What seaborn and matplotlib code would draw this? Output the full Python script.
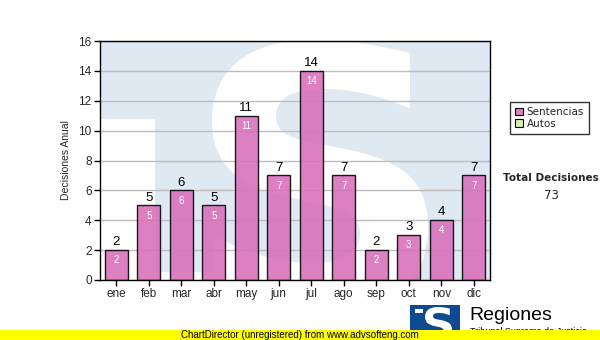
import matplotlib
matplotlib.use("Agg")
import matplotlib.pyplot as plt
import seaborn as sns
import pandas as pd
from matplotlib.patches import Rectangle, PathPatch, Patch
from matplotlib.textpath import TextPath
from matplotlib.font_manager import FontProperties
from matplotlib.transforms import Affine2D

# Monthly decisions
months = ["ene", "feb", "mar", "abr", "may", "jun", "jul", "ago", "sep", "oct", "nov", "dic"]
sentencias = [2, 5, 6, 5, 11, 7, 14, 7, 2, 3, 4, 7]
autos = [0, 0, 0, 0, 0, 0, 0, 0, 0, 0, 0, 0]
total = sum(sentencias) + sum(autos)

sns.set_theme(style="white")
plt.rcParams["font.family"] = ["Liberation Sans", "DejaVu Sans"]

W, H = 600, 340
fig = plt.figure(figsize=(6, 3.4), dpi=100)
fig.patch.set_facecolor("white")

def fx(px):
    return px / W

def fy(py):
    return 1 - py / H

# plot area in pixels: x 100..490, y 41..280
ax = fig.add_axes([fx(100), fy(280), (490 - 100) / W, (280 - 41) / H])
ax.set_facecolor("#dfe9f2")

# watermark logo behind the bars
ax.add_patch(Rectangle((0, 0), 55 / 390, 161 / 239, transform=ax.transAxes,
                       facecolor="white", edgecolor="none", zorder=0.1))
ax.add_patch(Rectangle((55 / 390, 0), 120 / 390, 8 / 239, transform=ax.transAxes,
                       facecolor="white", edgecolor="none", zorder=0.1))
sp = TextPath((0, 0), "S", prop=FontProperties(family="DejaVu Sans", weight="bold"))
ext = sp.get_extents()
x0, x1 = (212 - 100) / 390, (428 - 100) / 390
y0, y1 = (280 - 312) / 239, (280 - 40) / 239
tr = (Affine2D().translate(-ext.x0, -ext.y0)
      .scale((x1 - x0) / ext.width, (y1 - y0) / ext.height)
      .translate(x0, y0))
ax.add_patch(PathPatch(tr.transform_path(sp), transform=ax.transAxes,
                       facecolor="white", edgecolor="none", zorder=0.2))

df = pd.DataFrame({"mes": months, "Sentencias": sentencias})
sns.barplot(data=df, x="mes", y="Sentencias", color="#d86fb9", alpha=0.88,
            width=0.71, edgecolor="black", linewidth=1.0, saturation=1,
            ax=ax, zorder=2)

ax.set_ylim(0, 16)
ax.set_xlim(-0.5, len(months) - 0.5)
ax.set_yticks(range(0, 17, 2))
ax.yaxis.grid(True, color="#bdbdbd", linewidth=1.0)
ax.set_axisbelow(True)
for g in ax.get_ygridlines():
    g.set_zorder(0.5)
for s in ax.spines.values():
    s.set_visible(True)
    s.set_color("black")
    s.set_linewidth(1.0)
    s.set_zorder(3)
ax.tick_params(axis="both", direction="out", length=4, width=1, color="black",
               labelsize=8.5, pad=2, left=True, bottom=True)
ax.set_xlabel("")
ax.set_ylabel("Decisiones Anual", fontsize=7.5, labelpad=5)

for i, v in enumerate(sentencias):
    ax.text(i, v + 0.12, str(v), ha="center", va="bottom", fontsize=9.5,
            color="black", zorder=4)
    ax.text(i, v - 0.35, str(v), ha="center", va="top", fontsize=7,
            color="white", zorder=4)

# legend
handles = [Patch(facecolor="#de80c2", edgecolor="black", linewidth=0.8, label="Sentencias"),
           Patch(facecolor="#d8efa6", edgecolor="black", linewidth=0.8, label="Autos")]
leg = fig.legend(handles=handles, loc="upper left",
                 bbox_to_anchor=(fx(510), fy(102)),
                 prop={"family": "DejaVu Sans", "size": 7.5},
                 frameon=True, fancybox=False, edgecolor="black",
                 handlelength=0.7, handleheight=0.7, handletextpad=0.4,
                 labelspacing=0.15, borderpad=0.5, borderaxespad=0)
leg.get_frame().set_linewidth(1.0)

fig.text(fx(551), fy(178), "Total Decisiones", ha="center", va="center",
         fontsize=7.5, fontweight="bold", family="DejaVu Sans")
fig.text(fx(551), fy(196), str(total), ha="center", va="center",
         fontsize=8.5, family="DejaVu Sans")

# footer logo
fig.patches.append(Rectangle((fx(410), fy(340)), 50 / W, 35 / H, transform=fig.transFigure,
                             facecolor="#0d4a8f", edgecolor="none", zorder=1))
lp = TextPath((0, 0), "S", prop=FontProperties(family="DejaVu Sans", weight="bold"))
le = lp.get_extents()
lx0, lx1 = fx(425), fx(452)
ly0, ly1 = fy(340), fy(307)
ltr = (Affine2D().translate(-le.x0, -le.y0)
       .scale((lx1 - lx0) / le.width, (ly1 - ly0) / le.height)
       .translate(lx0, ly0))
fig.patches.append(PathPatch(ltr.transform_path(lp), transform=fig.transFigure,
                             facecolor="white", edgecolor="none", zorder=2))
fig.patches.append(Rectangle((fx(415), fy(313)), 8 / W, 4 / H, transform=fig.transFigure,
                             facecolor="white", edgecolor="none", zorder=2))
fig.text(fx(469), fy(316), "Regiones", ha="left", va="center", fontsize=14,
         color="black", zorder=2)
fig.text(fx(470), fy(331), "Tribunal Supremo de Justicia", ha="left", va="center",
         fontsize=6.5, color="black", zorder=2)

# footer band
fig.patches.append(Rectangle((0, 0), 1, 10 / H, transform=fig.transFigure,
                             facecolor="#ffff00", edgecolor="none", zorder=5))
fig.text(fx(300), fy(334.5), "ChartDirector (unregistered) from www.advsofteng.com",
         ha="center", va="center", fontsize=7, color="black", zorder=6)

fig.savefig("out.png", dpi=100, facecolor="white")
